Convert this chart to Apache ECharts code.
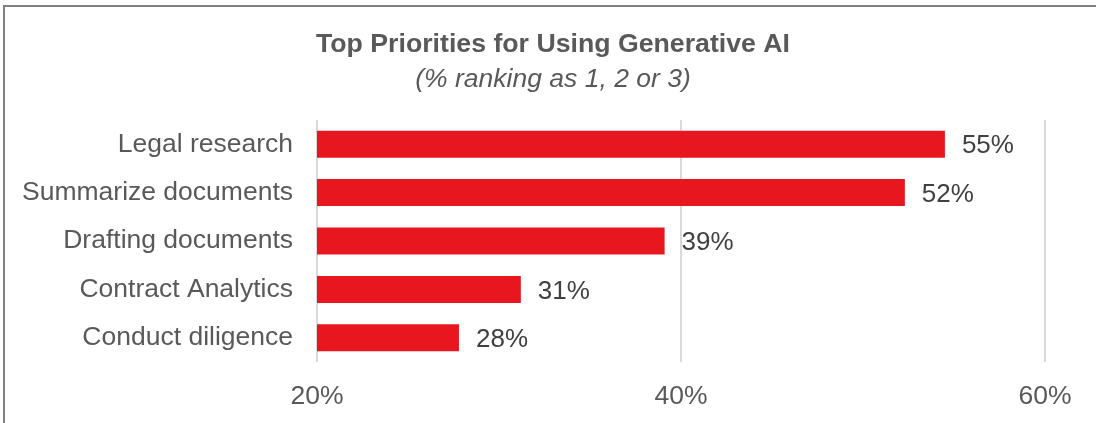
<!DOCTYPE html>
<html>
<head>
<meta charset="utf-8">
<script src="https://cdn.jsdelivr.net/npm/echarts@6/dist/echarts.min.js"></script>
<style>
  html, body { margin: 0; padding: 0; background: #fff; }
  #chart { width: 1097px; height: 423px; }
</style>
</head>
<body>
<div id="chart"></div>
<script>
// Data (bar lengths; labels show rounded values)
var categories = ['Legal research', 'Summarize documents', 'Drafting documents', 'Contract Analytics', 'Conduct diligence'];
var shares = [54.5, 52.3, 39.1, 31.2, 27.8];
var xTicks = [20, 40, 60];

var fontFamily = '"Liberation Sans", Arial, sans-serif';

var chart = echarts.init(document.getElementById('chart'));

var option = {
    animation: false,
    textStyle: { fontFamily: fontFamily },
    title: {
        text: 'Top Priorities for Using Generative AI',
        subtext: '(% ranking as 1, 2 or 3)',
        left: 548,
        textAlign: 'center',
        top: 26,
        itemGap: 8,
        textStyle: {
            fontFamily: fontFamily,
            fontSize: 26.7,
            fontWeight: 'bold',
            color: '#595959'
        },
        subtextStyle: {
            fontFamily: fontFamily,
            fontSize: 26.5,
            fontStyle: 'italic',
            color: '#595959'
        }
    },
    graphic: [{
        type: 'polyline',
        shape: { points: [[4, 430], [4, 6], [1096, 6]] },
        style: { stroke: '#808080', lineWidth: 2, fill: null },
        silent: true
    }],
    grid: {
        left: 317,
        right: 52,
        top: 120,
        bottom: 61,
        containLabel: false
    },
    xAxis: {
        type: 'value',
        min: xTicks[0],
        max: xTicks[xTicks.length - 1],
        interval: 20,
        axisLine: { show: false },
        axisTick: { show: false },
        splitLine: { show: true, lineStyle: { color: '#d9d9d9', width: 2 } },
        axisLabel: {
            margin: 21,
            fontSize: 26.5,
            color: '#595959',
            fontFamily: fontFamily,
            formatter: '{value}%'
        }
    },
    yAxis: {
        type: 'category',
        data: categories,
        inverse: true,
        axisLine: { show: false },
        axisTick: { show: false },
        axisLabel: {
            margin: 24,
            fontSize: 26.5,
            color: '#595959',
            fontFamily: fontFamily
        }
    },
    series: [{
        type: 'bar',
        data: shares,
        barWidth: 27,
        clip: true,
        itemStyle: { color: '#e8161f' },
        label: {
            show: true,
            position: 'right',
            distance: 17,
            offset: [0, 2],
            fontSize: 26,
            color: '#404040',
            fontFamily: fontFamily,
            formatter: function (p) { return Math.round(p.value) + '%'; }
        }
    }]
};

chart.setOption(option);
</script>
</body>
</html>
